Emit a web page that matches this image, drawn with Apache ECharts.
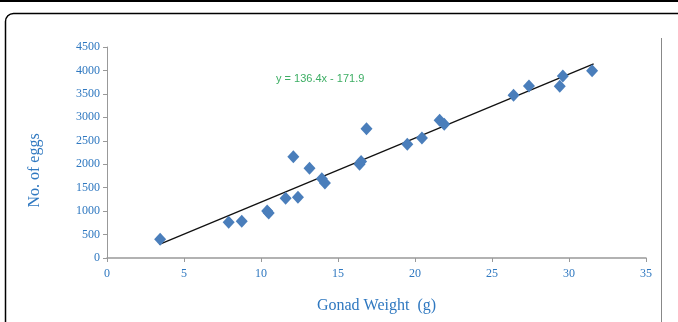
<!DOCTYPE html>
<html>
<head>
<meta charset="utf-8">
<script src="https://cdn.jsdelivr.net/npm/echarts@6/dist/echarts.min.js"></script>
<style>
  html, body { margin: 0; padding: 0; background: #fff; }
  #chart1 { width: 678px; height: 322px; }
</style>
</head>
<body>
<div id="chart1"></div>
<script>
// gonad weight (g) vs. number of eggs
var gonadWeight = [3.45, 7.9, 8.75, 10.4, 10.5, 11.6, 12.4, 12.1, 13.15, 13.95, 14.15,
    16.4, 16.5, 16.85, 19.5, 20.45, 21.6, 21.9, 26.4, 27.4, 29.4, 29.6, 31.5];
var eggs = [400, 765, 785, 1000, 960, 1275, 1295, 2160, 1915, 1690, 1600,
    2000, 2060, 2755, 2425, 2560, 2940, 2850, 3470, 3670, 3665, 3880, 3995];
// linear trendline y = 136.4x - 171.9
var slope = 136.4;
var intercept = -171.9;
var trendRange = [3.4, 31.6];
var xTicks = [0, 35, 5];
var yTicks = [0, 4500, 500];

_initChart();

function _initChart () {
    var myChart = echarts.init(document.getElementById('chart1'));
    var points = gonadWeight.map(function (x, i) { return [x, eggs[i]]; });
    var trend = trendRange.map(function (x) { return [x, slope * x + intercept]; });
    var blue = '#2f78c0';
    var option = {
        animation: false,
        grid: { left: 107, right: 32, top: 47, bottom: 64 },
        graphic: [
            // page frame
            { type: 'line', shape: { x1: 0, y1: 1, x2: 678, y2: 1 }, style: { stroke: '#000', lineWidth: 2 } },
            { type: 'rect', shape: { x: 5.5, y: 13.5, width: 690, height: 340, r: 8 }, style: { fill: null, stroke: '#000', lineWidth: 1.5 } },
            { type: 'line', shape: { x1: 661.5, y1: 38, x2: 661.5, y2: 322 }, style: { stroke: '#888', lineWidth: 1 } },
            {
                type: 'text', left: 276, top: 73,
                style: { text: 'y = 136.4x - 171.9', fill: '#3dae64', font: '11px "Liberation Sans", Arial, sans-serif' }
            }
        ],
        xAxis: {
            type: 'value',
            min: xTicks[0], max: xTicks[1], interval: xTicks[2],
            name: 'Gonad Weight  (g)',
            nameLocation: 'middle',
            nameGap: 40,
            nameTextStyle: { color: blue, fontFamily: 'Liberation Serif', fontSize: 16 },
            axisLine: { onZero: false, lineStyle: { color: '#999', width: 1.5 } },
            axisTick: { show: true, length: 4, lineStyle: { color: '#999' } },
            axisLabel: { color: blue, fontFamily: 'Liberation Serif', fontSize: 12, margin: 10 },
            splitLine: { show: false }
        },
        yAxis: {
            type: 'value',
            min: yTicks[0], max: yTicks[1], interval: yTicks[2],
            name: 'No. of eggs',
            nameLocation: 'middle',
            nameGap: 64,
            nameTextStyle: { color: blue, fontFamily: 'Liberation Serif', fontSize: 16, padding: [0, 36, 0, 0] },
            axisLine: { show: true, lineStyle: { color: '#999', width: 1 } },
            axisTick: { show: true, length: 4, lineStyle: { color: '#999' } },
            axisLabel: {
                color: blue, fontFamily: 'Liberation Serif', fontSize: 12, margin: 7,
                formatter: function (v) { return String(v); }
            },
            splitLine: { show: false }
        },
        series: [
            {
                type: 'line',
                data: trend,
                symbol: 'none',
                lineStyle: { color: '#111', width: 1.3 },
                z: 1
            },
            {
                type: 'scatter',
                data: points,
                symbol: 'diamond',
                symbolSize: [12, 13],
                itemStyle: { color: '#4a7ebb', opacity: 1 },
                z: 2
            }
        ]
    };
    myChart.setOption(option);
    window.onresize = myChart.resize;
}
</script>
</body>
</html>
